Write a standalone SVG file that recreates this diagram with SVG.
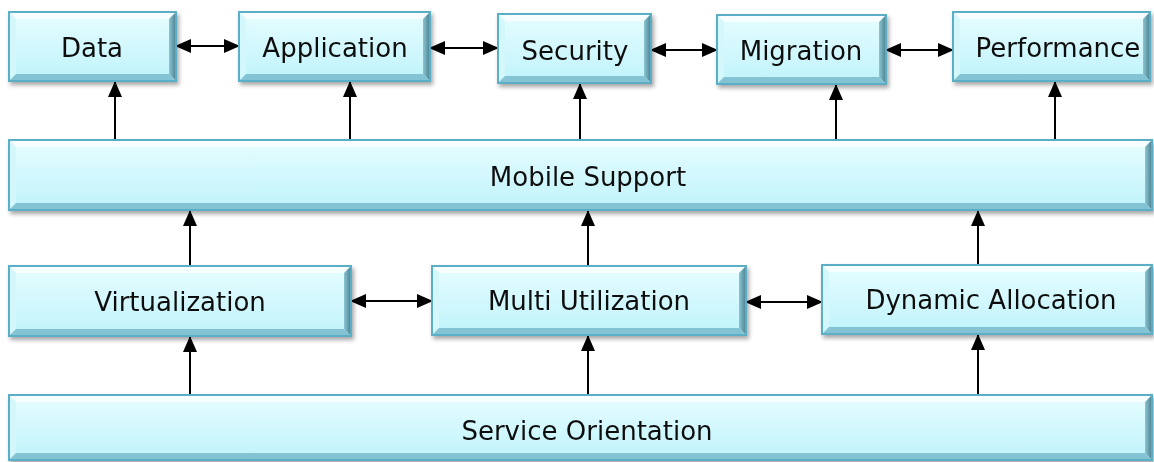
<svg xmlns="http://www.w3.org/2000/svg" width="1154" height="462" viewBox="0 0 1154 462">
<defs>
<linearGradient id="face" x1="0" y1="0" x2="0" y2="1"><stop offset="0" stop-color="#e6fdff"/><stop offset="1" stop-color="#bff3fb"/></linearGradient>
<linearGradient id="rg" x1="0" y1="0" x2="1" y2="0"><stop offset="0" stop-color="#8ac6d4"/><stop offset="1" stop-color="#4d7f8e"/></linearGradient>
<filter id="sh" x="-5%" y="-10%" width="110%" height="130%"><feDropShadow dx="2" dy="3" stdDeviation="2" flood-color="#000" flood-opacity="0.35"/></filter>
<marker id="ah" markerWidth="16" markerHeight="14" refX="15" refY="7" orient="auto-start-reverse" markerUnits="userSpaceOnUse"><path d="M0,0 L16,7 L0,14 Z" fill="#000"/></marker>
<style>
.face{fill:url(#face)}
.ol{fill:none;stroke:#5aaec5;stroke-width:2}
.bt{fill:#f6feff}
.bl{fill:#d4f7fc}
.br{fill:url(#rg)}
.bb{fill:#84c3d3}
.lbl{font-family:"DejaVu Sans",Verdana,sans-serif;font-size:26px;fill:#111;text-anchor:middle}
.c{stroke:#000;stroke-width:2;fill:none}
</style>
</defs>
<g id="connectors">
<line class="c" x1="176" y1="46" x2="239" y2="46" marker-start="url(#ah)" marker-end="url(#ah)"/>
<line class="c" x1="430" y1="48" x2="498" y2="48" marker-start="url(#ah)" marker-end="url(#ah)"/>
<line class="c" x1="651" y1="50" x2="717" y2="50" marker-start="url(#ah)" marker-end="url(#ah)"/>
<line class="c" x1="886" y1="50" x2="953" y2="50" marker-start="url(#ah)" marker-end="url(#ah)"/>
<line class="c" x1="351" y1="301" x2="432" y2="301" marker-start="url(#ah)" marker-end="url(#ah)"/>
<line class="c" x1="746" y1="302" x2="822" y2="302" marker-start="url(#ah)" marker-end="url(#ah)"/>
<line class="c" x1="115" y1="140" x2="115" y2="82" marker-end="url(#ah)"/>
<line class="c" x1="350" y1="140" x2="350" y2="82" marker-end="url(#ah)"/>
<line class="c" x1="580" y1="140" x2="580" y2="84" marker-end="url(#ah)"/>
<line class="c" x1="836" y1="140" x2="836" y2="85" marker-end="url(#ah)"/>
<line class="c" x1="1055" y1="140" x2="1055" y2="82" marker-end="url(#ah)"/>
<line class="c" x1="190" y1="266" x2="190" y2="211" marker-end="url(#ah)"/>
<line class="c" x1="588" y1="266" x2="588" y2="211" marker-end="url(#ah)"/>
<line class="c" x1="978" y1="265" x2="978" y2="211" marker-end="url(#ah)"/>
<line class="c" x1="190" y1="395" x2="190" y2="337" marker-end="url(#ah)"/>
<line class="c" x1="588" y1="395" x2="588" y2="336" marker-end="url(#ah)"/>
<line class="c" x1="978" y1="395" x2="978" y2="335" marker-end="url(#ah)"/>
</g>
<g id="data" filter="url(#sh)">
<rect class="face" x="9" y="12" width="167" height="69"/>
<polygon class="bt" points="9,12 176,12 169,19 16,19"/>
<polygon class="bl" points="9,12 16,19 16,74 9,81"/>
<polygon class="br" points="176,12 176,81 169,74 169,19"/>
<polygon class="bb" points="9,81 176,81 169,74 16,74"/>
<rect class="ol" x="9" y="12" width="167" height="69"/>
<text class="lbl" x="92" y="57">Data</text>
</g>
<g id="application" filter="url(#sh)">
<rect class="face" x="239" y="12" width="191" height="69"/>
<polygon class="bt" points="239,12 430,12 423,19 246,19"/>
<polygon class="bl" points="239,12 246,19 246,74 239,81"/>
<polygon class="br" points="430,12 430,81 423,74 423,19"/>
<polygon class="bb" points="239,81 430,81 423,74 246,74"/>
<rect class="ol" x="239" y="12" width="191" height="69"/>
<text class="lbl" x="335" y="57">Application</text>
</g>
<g id="security" filter="url(#sh)">
<rect class="face" x="498" y="14" width="153" height="69"/>
<polygon class="bt" points="498,14 651,14 644,21 505,21"/>
<polygon class="bl" points="498,14 505,21 505,76 498,83"/>
<polygon class="br" points="651,14 651,83 644,76 644,21"/>
<polygon class="bb" points="498,83 651,83 644,76 505,76"/>
<rect class="ol" x="498" y="14" width="153" height="69"/>
<text class="lbl" x="575" y="60">Security</text>
</g>
<g id="migration" filter="url(#sh)">
<rect class="face" x="717" y="15" width="169" height="69"/>
<polygon class="bt" points="717,15 886,15 879,22 724,22"/>
<polygon class="bl" points="717,15 724,22 724,77 717,84"/>
<polygon class="br" points="886,15 886,84 879,77 879,22"/>
<polygon class="bb" points="717,84 886,84 879,77 724,77"/>
<rect class="ol" x="717" y="15" width="169" height="69"/>
<text class="lbl" x="801" y="60">Migration</text>
</g>
<g id="performance" filter="url(#sh)">
<rect class="face" x="953" y="12" width="197" height="69"/>
<polygon class="bt" points="953,12 1150,12 1143,19 960,19"/>
<polygon class="bl" points="953,12 960,19 960,74 953,81"/>
<polygon class="br" points="1150,12 1150,81 1143,74 1143,19"/>
<polygon class="bb" points="953,81 1150,81 1143,74 960,74"/>
<rect class="ol" x="953" y="12" width="197" height="69"/>
<text class="lbl" x="1058" y="57">Performance</text>
</g>
<g id="mobile" filter="url(#sh)">
<rect class="face" x="9" y="140" width="1143" height="70"/>
<polygon class="bt" points="9,140 1152,140 1145,147 16,147"/>
<polygon class="bl" points="9,140 16,147 16,203 9,210"/>
<polygon class="br" points="1152,140 1152,210 1145,203 1145,147"/>
<polygon class="bb" points="9,210 1152,210 1145,203 16,203"/>
<rect class="ol" x="9" y="140" width="1143" height="70"/>
<text class="lbl" x="588" y="186">Mobile Support</text>
</g>
<g id="virtualization" filter="url(#sh)">
<rect class="face" x="9" y="266" width="342" height="70"/>
<polygon class="bt" points="9,266 351,266 344,273 16,273"/>
<polygon class="bl" points="9,266 16,273 16,329 9,336"/>
<polygon class="br" points="351,266 351,336 344,329 344,273"/>
<polygon class="bb" points="9,336 351,336 344,329 16,329"/>
<rect class="ol" x="9" y="266" width="342" height="70"/>
<text class="lbl" x="180" y="311">Virtualization</text>
</g>
<g id="multi" filter="url(#sh)">
<rect class="face" x="432" y="266" width="314" height="69"/>
<polygon class="bt" points="432,266 746,266 739,273 439,273"/>
<polygon class="bl" points="432,266 439,273 439,328 432,335"/>
<polygon class="br" points="746,266 746,335 739,328 739,273"/>
<polygon class="bb" points="432,335 746,335 739,328 439,328"/>
<rect class="ol" x="432" y="266" width="314" height="69"/>
<text class="lbl" x="589" y="310">Multi Utilization</text>
</g>
<g id="dynamic" filter="url(#sh)">
<rect class="face" x="822" y="265" width="330" height="69"/>
<polygon class="bt" points="822,265 1152,265 1145,272 829,272"/>
<polygon class="bl" points="822,265 829,272 829,327 822,334"/>
<polygon class="br" points="1152,265 1152,334 1145,327 1145,272"/>
<polygon class="bb" points="822,334 1152,334 1145,327 829,327"/>
<rect class="ol" x="822" y="265" width="330" height="69"/>
<text class="lbl" x="991" y="309">Dynamic Allocation</text>
</g>
<g id="service" filter="url(#sh)">
<rect class="face" x="9" y="395" width="1143" height="65"/>
<polygon class="bt" points="9,395 1152,395 1145,402 16,402"/>
<polygon class="bl" points="9,395 16,402 16,453 9,460"/>
<polygon class="br" points="1152,395 1152,460 1145,453 1145,402"/>
<polygon class="bb" points="9,460 1152,460 1145,453 16,453"/>
<rect class="ol" x="9" y="395" width="1143" height="65"/>
<text class="lbl" x="587" y="440">Service Orientation</text>
</g>
</svg>
